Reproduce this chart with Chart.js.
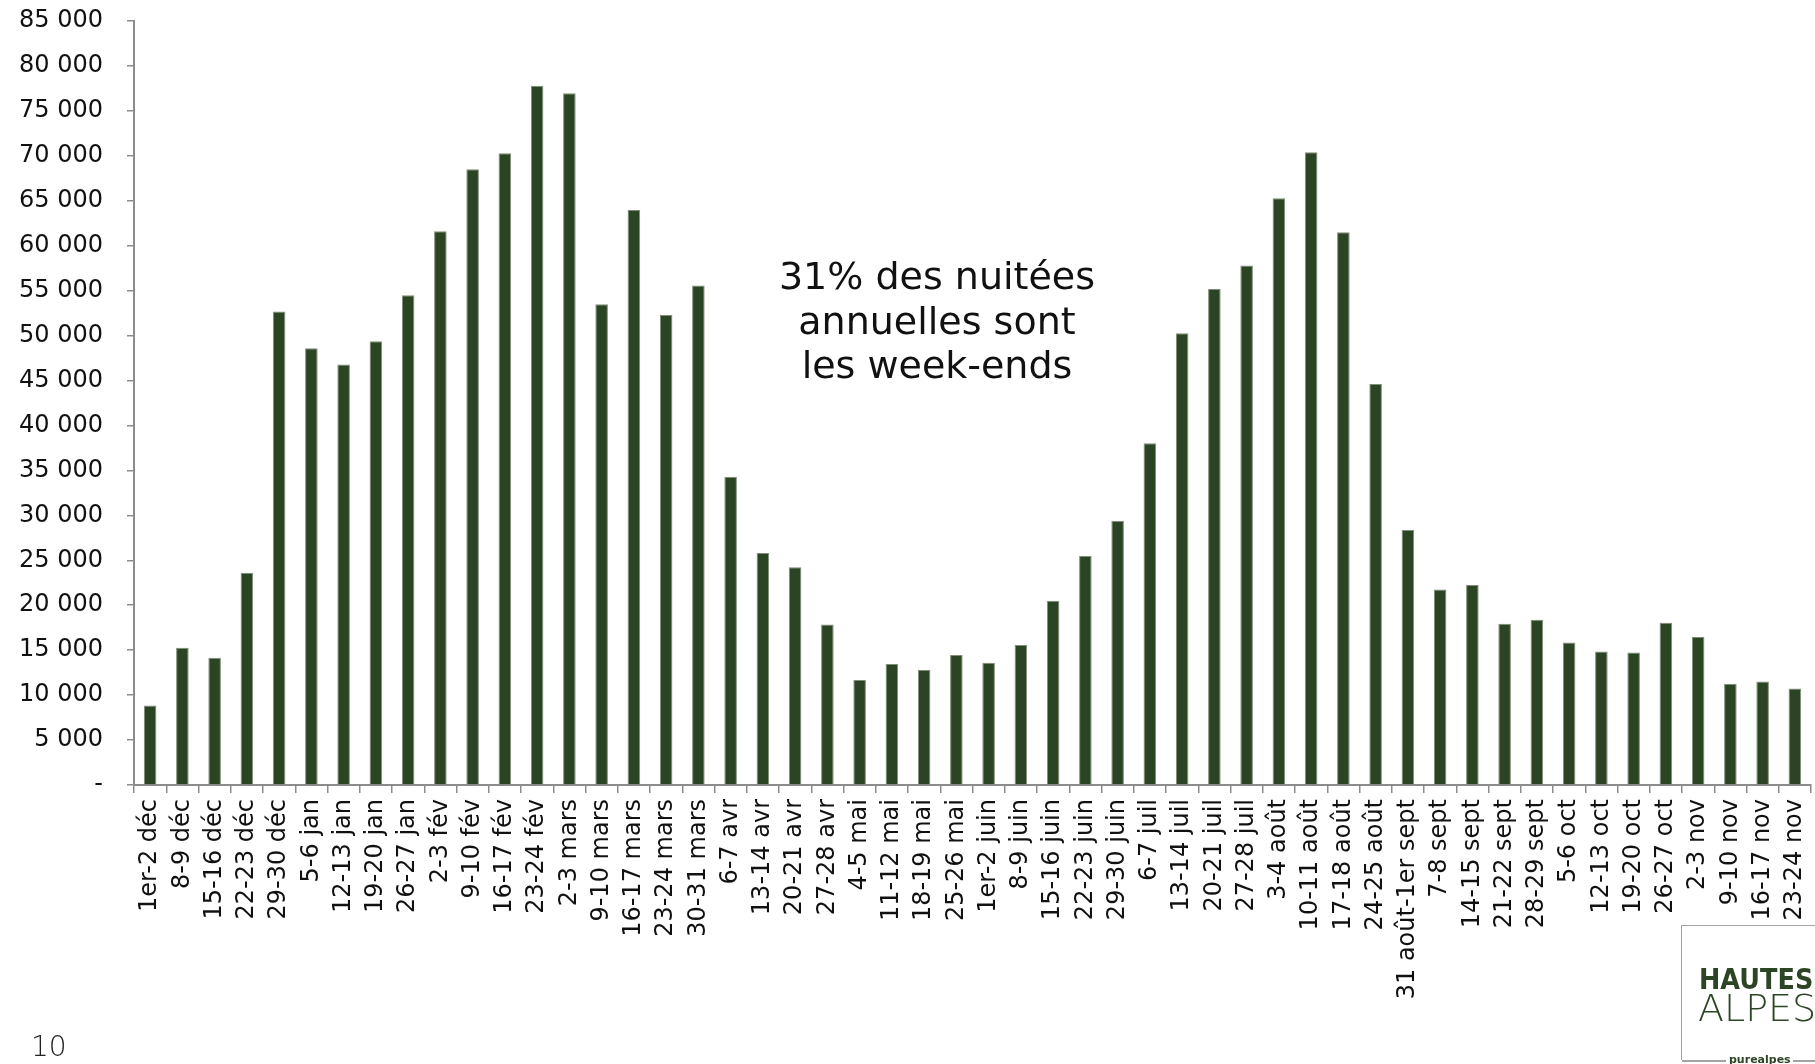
<!DOCTYPE html>
<html lang="fr">
<head>
<meta charset="utf-8">
<title>Nuitées week-ends</title>
<script src="https://cdn.jsdelivr.net/npm/chart.js@4.4.1/dist/chart.umd.min.js"></script>
<style>
  html, body { margin: 0; padding: 0; background: #fff; }
  #wrap { position: relative; width: 1815px; height: 1064px; overflow: hidden; }
  #note {
    position: absolute; left: 737px; top: 254px; width: 400px;
    text-align: center; font-family: "DejaVu Sans", sans-serif;
    font-size: 38px; line-height: 44.5px; color: #111;
  }
  #page {
    position: absolute; left: 31px; top: 1030px;
    font-family: "DejaVu Sans", sans-serif; font-weight: 200;
    font-size: 28px; color: #222;
  }
  #logo {
    position: absolute; left: 1681px; top: 925px; width: 140px; height: 134px;
    border-left: 1.5px solid #a3a3a3; border-top: 1.5px solid #a3a3a3;
  }
  #logo .l1 {
    position: absolute; left: 17px; top: 38px; font-family: "DejaVu Sans", sans-serif;
    font-weight: bold; font-size: 29px; color: #2c4524; line-height: 30px;
    transform: scaleX(0.88); transform-origin: left top; white-space: nowrap;
  }
  #logo .l2 {
    position: absolute; left: 16px; top: 62px; font-family: "DejaVu Sans", sans-serif;
    font-weight: 200; font-size: 38px; color: #2c4524; line-height: 40px;
  }
  #logo .foot {
    position: absolute; left: 0; top: 127px; width: 140px; height: 14px;
  }
  #logo .foot span {
    position: absolute; left: 47px; top: 0; font-family: "DejaVu Sans", sans-serif;
    font-weight: bold; font-size: 11px; color: #2c4524;
  }
  #logo .foot i { position: absolute; top: 7px; height: 1.5px; background: #a3a3a3; }
</style>
</head>
<body>
<div id="wrap">
  <canvas id="weekendChart"></canvas>
  <div id="note">31% des nuitées<br>annuelles sont<br>les week-ends</div>
  <div id="page">10</div>
  <div id="logo">
    <div class="l1">HAUTES</div>
    <div class="l2">ALPES</div>
    <div class="foot"><i style="left:0;width:44px"></i><span>purealpes</span><i style="left:111px;width:40px"></i></div>
  </div>
</div>
<script>
// Week-ends: nuitées par week-end, décembre -> novembre
const weekends = ['1er-2 déc', '8-9 déc', '15-16 déc', '22-23 déc', '29-30 déc',
    '5-6 jan', '12-13 jan', '19-20 jan', '26-27 jan',
    '2-3 fév', '9-10 fév', '16-17 fév', '23-24 fév',
    '2-3 mars', '9-10 mars', '16-17 mars', '23-24 mars', '30-31 mars',
    '6-7 avr', '13-14 avr', '20-21 avr', '27-28 avr',
    '4-5 mai', '11-12 mai', '18-19 mai', '25-26 mai',
    '1er-2 juin', '8-9 juin', '15-16 juin', '22-23 juin', '29-30 juin',
    '6-7 juil', '13-14 juil', '20-21 juil', '27-28 juil',
    '3-4 août', '10-11 août', '17-18 août', '24-25 août',
    '31 août-1er sept', '7-8 sept', '14-15 sept', '21-22 sept', '28-29 sept',
    '5-6 oct', '12-13 oct', '19-20 oct', '26-27 oct',
    '2-3 nov', '9-10 nov', '16-17 nov', '23-24 nov'];

const nuitees = [8850, 15270, 14160, 23610, 52670,
    48600, 46780, 49380, 54490,
    61610, 68500, 70280, 77800,
    76960, 53490, 63980, 52300, 55560,
    34290, 25800, 24240, 17860,
    11680, 13460, 12790, 14460,
    13600, 15570, 20500, 25470, 29390,
    38030, 50270, 55190, 57790,
    65280, 70400, 61500, 44600,
    28360, 21760, 22240, 17940, 18380,
    15860, 14860, 14750, 18050,
    16460, 11270, 11520, 10740];

const yMax = 85000;
const yStep = 5000;

const axisGrey = '#8c8c8c';
const barGreen = '#2b4423';

function fmt(v) {
    if (v === 0) return '-';
    return String(v).replace(/\B(?=(\d{3})+(?!\d))/g, ' ');
}

const cnv = document.getElementById('weekendChart');
cnv.width = 1815;
cnv.height = 1064;

const ctx = cnv.getContext('2d');
const weekendChart = new Chart(ctx, {
    type: 'bar',
    data: {
        labels: weekends,
        datasets: [{
            data: nuitees,
            backgroundColor: barGreen,
            borderColor: '#7f8d78',
            borderWidth: { left: 1, right: 1, top: 1, bottom: 0 },
            barPercentage: 0.39,
            categoryPercentage: 1
        }]
    },
    options: {
        responsive: false,
        animation: false,
        layout: {
            padding: { top: 21, right: 4, left: 0, bottom: 0 }
        },
        plugins: {
            legend: { display: false },
            tooltip: { enabled: false }
        },
        scales: {
            x: {
                grid: {
                    display: true,
                    drawOnChartArea: false,
                    drawTicks: true,
                    tickLength: 8,
                    color: axisGrey,
                    lineWidth: 1.5
                },
                border: { display: true, color: axisGrey, width: 2 },
                ticks: {
                    autoSkip: false,
                    minRotation: 90,
                    maxRotation: 90,
                    padding: 6,
                    color: '#111',
                    font: { family: 'DejaVu Sans', size: 24 }
                },
                afterFit: function(scale) {
                    scale.height = 279;
                    scale.paddingLeft = 0;
                    scale.paddingRight = 0;
                }
            },
            y: {
                min: 0,
                max: yMax,
                grid: {
                    display: true,
                    drawOnChartArea: false,
                    drawTicks: true,
                    tickLength: 7,
                    color: axisGrey,
                    lineWidth: 1.5
                },
                border: { display: true, color: axisGrey, width: 2 },
                ticks: {
                    stepSize: yStep,
                    padding: 24,
                    color: '#111',
                    font: { family: 'DejaVu Sans', size: 24 },
                    callback: function(value) { return fmt(value); }
                },
                afterFit: function(scale) {
                    scale.width = 134;
                    scale.paddingTop = 0;
                    scale.paddingBottom = 0;
                }
            }
        }
    }
});
</script>
</body>
</html>
